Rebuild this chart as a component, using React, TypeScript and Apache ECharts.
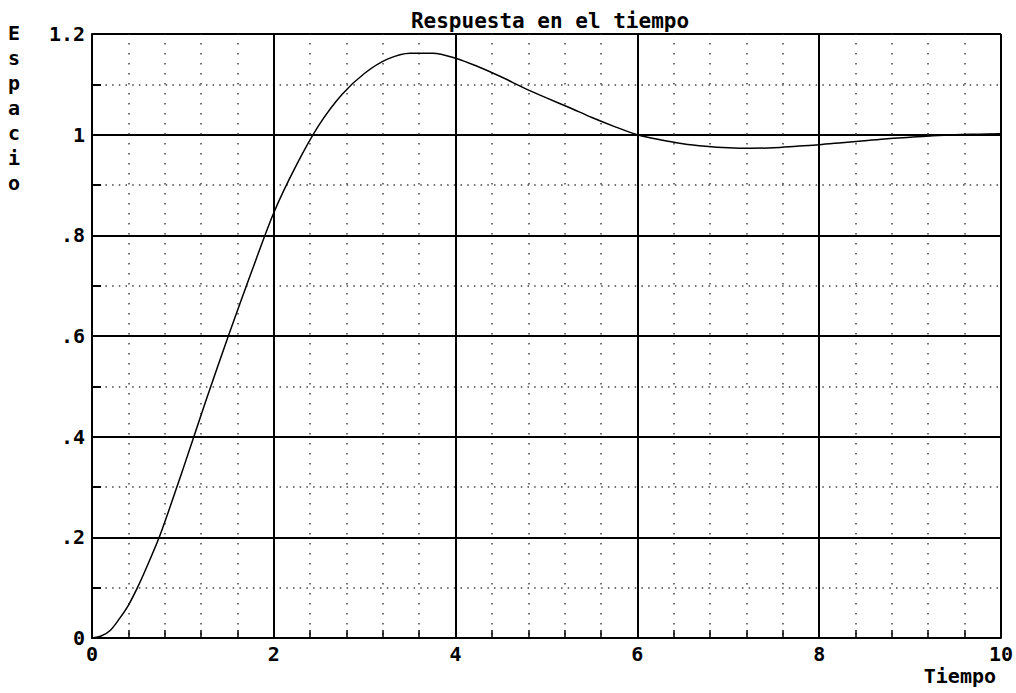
import React, { useEffect, useRef } from "react";
import * as echarts from "echarts";

const titleText = "Respuesta en el tiempo";
const yAxisName = "Espacio";
const xAxisName = "Tiempo";

const timeValues = [
  0, 0.1, 0.2, 0.3, 0.4, 0.5, 0.6, 0.75, 1.0, 1.25, 1.5, 1.75, 2.0, 2.25, 2.5,
  2.75, 3.0, 3.25, 3.5, 3.75, 4.0, 4.25, 4.5, 4.75, 5.0, 5.25, 5.5, 5.75, 6.0,
  6.25, 6.5, 6.75, 7.0, 7.25, 7.5, 7.75, 8.0, 8.25, 8.5, 8.75, 9.0, 9.25, 9.5,
  9.75, 10.0,
];
const spaceValues = [
  0, 0.004, 0.015, 0.038, 0.065, 0.1, 0.14, 0.205, 0.335, 0.47, 0.6, 0.725,
  0.845, 0.94, 1.02, 1.08, 1.122, 1.15, 1.162, 1.162, 1.152, 1.135, 1.115,
  1.093, 1.073, 1.054, 1.034, 1.016, 1.0, 0.99, 0.982, 0.977, 0.974, 0.973,
  0.974, 0.977, 0.98, 0.984, 0.988, 0.992, 0.995, 0.998, 1.0, 1.001, 1.002,
];

const FONT = "DejaVu Sans Mono";

export default function App() {
  const ref = useRef<HTMLDivElement>(null);
  useEffect(() => {
    if (!ref.current) return;
    const chart = echarts.init(ref.current, null, { renderer: "svg" });
    const data = timeValues.map((t, i) => [t, spaceValues[i]]);
    const labelStyle = {
      color: "#000",
      fontFamily: FONT,
      fontSize: 20,
      fontWeight: "bold",
    };
    chart.setOption({
      animation: false,
      backgroundColor: "#fff",
      title: {
        text: titleText,
        left: 545,
        textAlign: "center",
        top: 5,
        textStyle: { ...labelStyle, fontSize: 21 },
      },
      grid: { left: 92, top: 34, right: 14, bottom: 55, containLabel: false },
      xAxis: {
        type: "value",
        min: 0,
        max: 10,
        interval: 2,
        axisLine: { show: true, lineStyle: { color: "#000", width: 2 } },
        axisTick: { show: true, inside: true, length: 8, lineStyle: { color: "#000", width: 2 } },
        minorTick: { show: true, splitNumber: 5, length: 8, lineStyle: { color: "#000", width: 1.5 } },
        axisLabel: { ...labelStyle, margin: 6 },
        splitLine: { show: true, lineStyle: { color: "#000", width: 2 } },
        minorSplitLine: {
          show: true,
          lineStyle: { color: "#444", width: 1.5, type: [1.5, 8.5], dashOffset: 1 },
        },
      },
      yAxis: {
        type: "value",
        min: 0,
        max: 1.2,
        interval: 0.2,
        axisLine: { show: true, lineStyle: { color: "#000", width: 2 } },
        axisTick: { show: true, inside: true, length: 9, lineStyle: { color: "#000", width: 2 } },
        minorTick: { show: true, splitNumber: 2, length: 9, lineStyle: { color: "#000", width: 2 } },
        axisLabel: {
          ...labelStyle,
          margin: 7,
          formatter: (v: number) => {
            const r = Math.round(v * 10) / 10;
            if (r === 0) return "0";
            return r.toString().replace(/^0\./, ".");
          },
        },
        splitLine: { show: true, lineStyle: { color: "#000", width: 2 } },
        minorSplitLine: {
          show: true,
          lineStyle: { color: "#444", width: 1.5, type: [1.5, 5.2] },
        },
      },
      graphic: [
        {
          type: "text",
          left: 8,
          top: 20,
          style: {
            text: yAxisName.split("").join("\n"),
            fontFamily: FONT,
            fontSize: 20,
            fontWeight: "bold",
            lineHeight: 25,
            fill: "#000",
            align: "center",
          },
        },
        {
          type: "text",
          right: 20,
          top: 666,
          style: {
            text: xAxisName,
            fontFamily: FONT,
            fontSize: 20,
            fontWeight: "bold",
            fill: "#000",
          },
        },
      ],
      series: [
        {
          type: "line",
          data,
          showSymbol: false,
          smooth: 0.3,
          lineStyle: { color: "#000", width: 1.5 },
          z: 5,
        },
      ],
    });
    return () => chart.dispose();
  }, []);
  return (
    <div
      ref={ref}
      style={{ position: "absolute", left: 0, top: 0, width: 1016, height: 693 }}
    />
  );
}
